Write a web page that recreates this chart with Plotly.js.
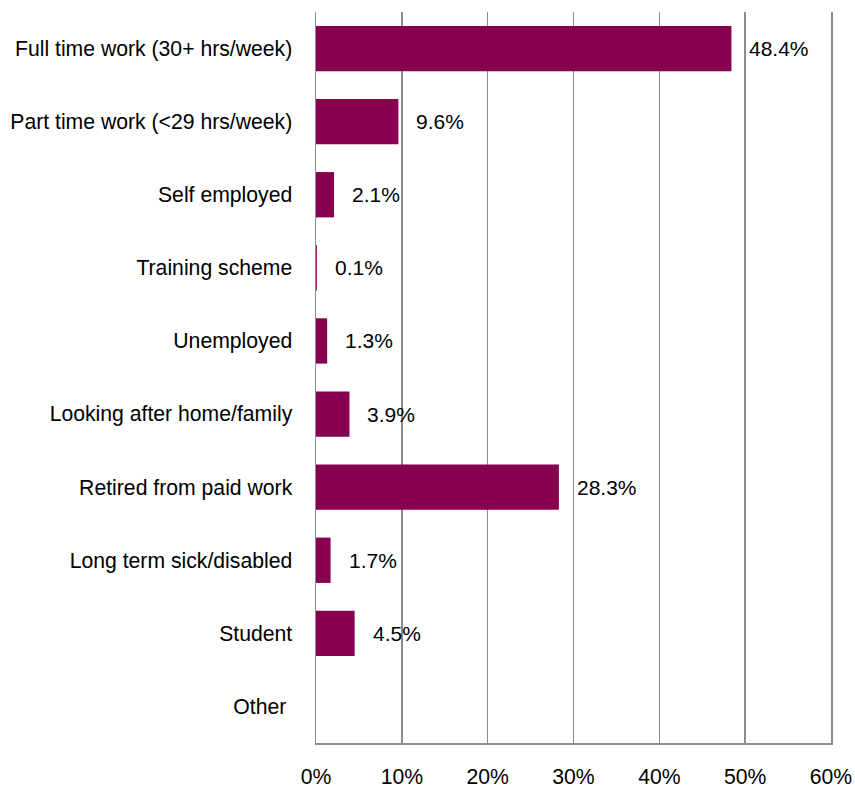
<!DOCTYPE html>
<html>
<head>
<meta charset="utf-8">
<script src="https://cdn.plot.ly/plotly-3.0.1.min.js"></script>
<style>html,body{margin:0;padding:0;background:#fff;}#chart{width:855px;height:787px;}</style>
</head>
<body>
<div id="chart"></div>
<script>
const categories = [
  "Full time work (30+ hrs/week)",
  "Part time work (<29 hrs/week)",
  "Self employed",
  "Training scheme",
  "Unemployed",
  "Looking after home/family",
  "Retired from paid work",
  "Long term sick/disabled",
  "Student",
  "Other "
];
const values = [48.4, 9.6, 2.1, 0.1, 1.3, 3.9, 28.3, 1.7, 4.5, null];
const tickVals = [0, 10, 20, 30, 40, 50, 60];
const tickText = ["0%", "10%", "20%", "30%", "40%", "50%", "60%"];

const FONT = 'Liberation Sans, Arial, sans-serif';
const annotations = [];
categories.forEach((c, i) => {
  if (values[i] !== null) {
    annotations.push({
      x: values[i], y: c, xref: 'x', yref: 'y',
      text: values[i].toFixed(1) + '%',
      showarrow: false, xanchor: 'left', xshift: 16,
      font: {family: FONT, size: 21, color: '#000'}
    });
  }
});

const trace = {
  type: 'bar', orientation: 'h',
  x: values, y: categories,
  marker: {color: '#880050'},
  width: 0.62,
  hoverinfo: 'skip'
};

const layout = {
  width: 855, height: 787,
  margin: {l: 316, r: 24, t: 12, b: 44},
  paper_bgcolor: '#fff', plot_bgcolor: '#fff',
  showlegend: false,
  font: {family: FONT, size: 21.2, color: '#000'},
  xaxis: {
    range: [0, 60], tickvals: tickVals, ticktext: tickText,
    showgrid: true, gridcolor: '#8c8c8c', gridwidth: 1.5,
    showline: true, linecolor: '#8c8c8c', linewidth: 1.5,
    zeroline: false, ticks: '', ticklabelstandoff: 14,
    fixedrange: true
  },
  yaxis: {
    autorange: 'reversed', type: 'category',
    showline: true, linecolor: '#8c8c8c', linewidth: 1.5, mirror: true,
    showgrid: false, zeroline: false, ticks: '', ticklabelstandoff: 18,
    fixedrange: true
  },
  annotations: annotations
};

Plotly.newPlot('chart', [trace], layout, {displayModeBar: false, staticPlot: true});
</script>
</body>
</html>
